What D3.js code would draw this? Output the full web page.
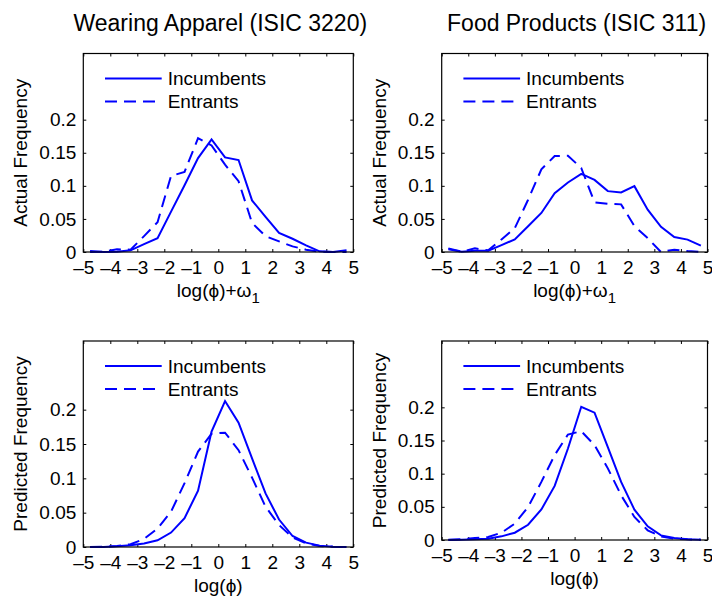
<!DOCTYPE html>
<html><head><meta charset="utf-8">
<script src="https://cdn.jsdelivr.net/npm/d3@7"></script>
<style>
body{margin:0;background:#fff;}
svg{display:block;font-family:"Liberation Sans",Arial,Helvetica,sans-serif;}
</style></head>
<body>
<svg id="chart" width="712" height="596"></svg>
<script>
// bin centres (x values)
const binCentres = [-4.75,-4.25,-3.75,-3.25,-2.75,-2.25,-1.75,-1.25,-0.75,-0.25,0.25,0.75,1.25,1.75,2.25,2.75,3.25,3.75,4.25,4.75];
const xTicks = [-5,-4,-3,-2,-1,0,1,2,3,4,5];
const yTicks = [0,0.05,0.1,0.15,0.2];
const seriesNames = ["Incumbents","Entrants"];
const panelTitles = ["Wearing Apparel (ISIC 3220)","Food Products (ISIC 311)"];
const yLabels = ["Actual Frequency","Predicted Frequency"];

// Wearing apparel, actual
const apparelActualInc = [0.0015,0.0,0.0005,0.0025,0.012,0.021,0.061,0.101,0.142,0.170,0.143,0.139,0.078,0.053,0.029,0.020,0.010,0.001,0.0,0.0025];
const apparelActualEnt = [0.0,0.0005,0.004,0.0035,0.024,0.045,0.115,0.121,0.172,0.161,0.132,0.107,0.044,0.024,0.016,0.0085,0.0035,0.0005,0.0,0.0];
// Food products, actual
const foodActualInc = [0.004,0.0005,0.002,0.002,0.0105,0.019,0.039,0.059,0.089,0.105,0.118,0.109,0.092,0.090,0.0995,0.064,0.038,0.0227,0.0187,0.0096];
const foodActualEnt = [0.0055,0.0005,0.0055,0.0025,0.019,0.036,0.079,0.125,0.145,0.1455,0.127,0.075,0.073,0.072,0.039,0.021,0.0,0.0035,0.0015,0.0];
// Wearing apparel, predicted
const apparelPredInc = [0.0,0.0,0.001,0.0025,0.005,0.0097,0.021,0.042,0.082,0.168,0.2126,0.181,0.129,0.078,0.040,0.016,0.0063,0.002,0.0005,0.0];
const apparelPredEnt = [0.0,0.0005,0.0015,0.004,0.0117,0.027,0.0515,0.093,0.139,0.165,0.1665,0.141,0.101,0.0587,0.032,0.014,0.0053,0.0015,0.0005,0.0];
// Food products, predicted
const foodPredInc = [0.0,0.0005,0.001,0.002,0.0055,0.011,0.023,0.046,0.0815,0.138,0.2008,0.192,0.140,0.0876,0.0458,0.0206,0.007,0.003,0.001,0.0005];
const foodPredEnt = [0.0005,0.001,0.003,0.0045,0.011,0.0247,0.0498,0.0876,0.128,0.159,0.164,0.143,0.108,0.0674,0.0347,0.0146,0.0055,0.002,0.001,0.0005];

const svg = d3.select("#chart");
const blue = "#0000ff";
const fs = 19;

const panels = [
  {l:83.3, r:353.3, t:53.5, b:252, inc:apparelActualInc, ent:apparelActualEnt, title:panelTitles[0], ylab:yLabels[0], xlab:"actual"},
  {l:441.7, r:707.5, t:53.5, b:252, inc:foodActualInc, ent:foodActualEnt, title:panelTitles[1], ylab:yLabels[0], xlab:"actual"},
  {l:83.3, r:353.3, t:341, b:547, inc:apparelPredInc, ent:apparelPredEnt, title:null, ylab:yLabels[1], xlab:"pred"},
  {l:441.7, r:707.5, t:341, b:540, inc:foodPredInc, ent:foodPredEnt, title:null, ylab:yLabels[1], xlab:"pred"}
];

const fmtX = d => d < 0 ? "\u2013" + Math.abs(d) : String(d);
const fmtY = d => d === 0 ? "0" : String(d);

panels.forEach(p => {
  const x = d3.scaleLinear().domain([-5,5]).range([p.l,p.r]);
  const y = d3.scaleLinear().domain([0,0.3]).range([p.b,p.t]);
  const g = svg.append("g");
  const tl = 3;

  const xb = d3.axisBottom(x).tickValues(xTicks).tickSizeInner(-tl).tickSizeOuter(0).tickPadding(9).tickFormat(fmtX);
  const xt = d3.axisTop(x).tickValues(xTicks).tickSizeInner(-tl).tickSizeOuter(0).tickFormat("");
  const yl = d3.axisLeft(y).tickValues(yTicks).tickSizeInner(-tl).tickSizeOuter(0).tickPadding(7).tickFormat(fmtY);
  const yr = d3.axisRight(y).tickValues(yTicks).tickSizeInner(-tl).tickSizeOuter(0).tickFormat("");

  const ax = [
    g.append("g").attr("transform",`translate(0,${p.b})`).call(xb),
    g.append("g").attr("transform",`translate(0,${p.t})`).call(xt),
    g.append("g").attr("transform",`translate(${p.l},0)`).call(yl),
    g.append("g").attr("transform",`translate(${p.r},0)`).call(yr)
  ];
  ax.forEach(a => {
    a.select(".domain").remove();
    a.selectAll("line").attr("stroke","#000").attr("stroke-width",1);
    a.selectAll("text").attr("fill","#000").style("font-size",fs+"px").style("font-family",'"Liberation Sans",Arial,sans-serif');
  });
  ax[0].selectAll("text").attr("dy","0.71em");

  const line = d3.line().x((d,i) => x(binCentres[i])).y(d => y(d));
  g.append("path").datum(p.inc).attr("d",line).attr("fill","none").attr("stroke",blue).attr("stroke-width",2).attr("stroke-linejoin","miter");
  g.append("path").datum(p.ent).attr("d",line).attr("fill","none").attr("stroke",blue).attr("stroke-width",2).attr("stroke-dasharray","12,7");

  g.append("rect").attr("x",p.l).attr("y",p.t).attr("width",p.r-p.l).attr("height",p.b-p.t)
    .attr("fill","none").attr("stroke","#000").attr("stroke-width",1.2);

  const lx0 = p.l + 21.7, lx1 = p.l + 78.4, ltx = p.l + 84.4;
  const ly = [p.t + 25, p.t + 48];
  seriesNames.forEach((name,i) => {
    g.append("line").attr("x1",lx0).attr("x2",lx1).attr("y1",ly[i]).attr("y2",ly[i])
      .attr("stroke",blue).attr("stroke-width",2).attr("stroke-dasharray", i===1 ? "12,7" : null);
    g.append("text").attr("x",ltx).attr("y",ly[i]).attr("dy","0.35em").style("font-size",fs+"px").text(name);
  });

  if (p.title) {
    g.append("text").attr("x",(p.l+p.r)/2 + 2).attr("y",31).attr("text-anchor","middle").style("font-size","23px").text(p.title);
  }
  g.append("text").attr("transform",`translate(${p.l-56},${(p.t+p.b)/2}) rotate(-90)`).attr("text-anchor","middle")
    .style("font-size",fs+"px").text(p.ylab);
  const xl = g.append("text").attr("x",(p.l+p.r)/2).attr("y",p.b+45).attr("text-anchor","middle").style("font-size",fs+"px");
  if (p.xlab === "actual") {
    xl.append("tspan").text("log(\u03D5)+\u03C9");
    xl.append("tspan").attr("dy",6).style("font-size","15px").text("1");
  } else {
    xl.text("log(\u03D5)");
  }
});
</script>
</body></html>
